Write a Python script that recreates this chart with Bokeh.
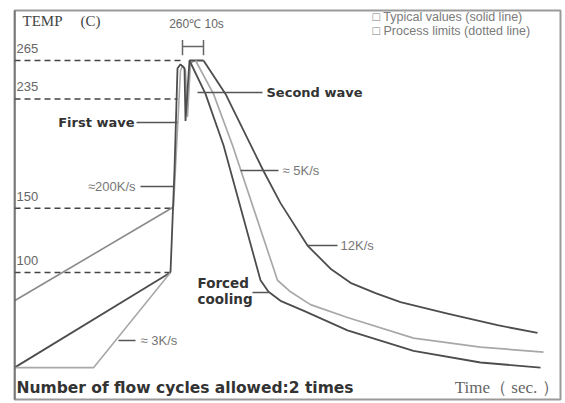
from bokeh.plotting import figure
from bokeh.models import Span
from bokeh.core.properties import value
from bokeh.embed import file_html
from bokeh.resources import INLINE

# ---------------- data (time in s, temperature in C) ----------------
levels = [265, 235, 150, 100]
level_labels = ["265", "235", "150", "100"]
level_end_t = [166, 163, 157, 156]

# heating (preheat) lines
heat_typ_t = [0, 156]
heat_typ_T = [26, 100]
heat_hi_t = [0, 159]
heat_hi_T = [78, 151]
heat_lo_t = [0, 79, 156]
heat_lo_T = [26, 26, 100]

# first wave / second wave (typical)
wave_typ_t = [156, 160, 163, 166, 170, 171, 175, 189]
wave_typ_T = [100, 180, 259, 262, 259, 218, 265, 265]
# first wave / second wave (process limits)
wave_lim_t = [159, 166, 168, 171, 173, 176, 181]
wave_lim_T = [151, 257, 261, 257, 221, 263, 265]

# cooling curves
cool_slow_t = [189, 211, 249, 266, 293, 316, 336, 361, 386, 433, 483, 523]
cool_slow_T = [265, 239, 179, 154, 121, 103, 92, 84, 77, 68, 59, 53]
cool_mid_t = [181, 199, 218, 263, 276, 296, 333, 399, 466, 529]
cool_mid_T = [265, 239, 199, 94, 85, 75, 65, 49, 42, 38]
cool_fast_t = [175, 191, 209, 246, 254, 266, 290, 333, 399, 466, 526]
cool_fast_T = [265, 239, 199, 94, 85, 78, 70, 55, 39, 30, 26]

DARK = "#4d4d4d"
MID = "#8a8a8a"
LIGHT = "#a8a8a8"

p = figure(width=565, height=403, x_range=(0, 546), y_range=(1.2, 303.9),
           x_axis_type=None, y_axis_type=None, toolbar_location=None,
           output_backend="svg", min_border_left=14, min_border_right=5,
           min_border_top=10, min_border_bottom=4)
p.grid.visible = False
p.outline_line_color = "#9a9a9a"
p.outline_line_width = 2
p.background_fill_color = "white"
p.border_fill_color = "white"
p.add_layout(Span(location=0, dimension="height", line_color="#555555", line_width=2))

# reference dashed levels
p.segment(x0=[0] * len(levels), y0=levels, x1=level_end_t, y1=levels,
          line_color="#444444", line_width=1.5, line_dash="6 4")
p.text(x=[2] * len(levels), y=[T + 9.5 for T in levels], text=level_labels,
       text_font=value("Liberation Sans"), text_font_size="13px",
       text_color="#666666", text_baseline="middle", text_align="left")

# heating
p.line(heat_hi_t, heat_hi_T, line_color=MID, line_width=1.6)
p.line(heat_typ_t, heat_typ_T, line_color=DARK, line_width=1.8)
p.line(heat_lo_t, heat_lo_T, line_color=LIGHT, line_width=1.6)

# waves
p.line(wave_lim_t, wave_lim_T, line_color=LIGHT, line_width=1.6)
p.line(wave_typ_t, wave_typ_T, line_color=DARK, line_width=1.8)

# cooling
p.line(cool_slow_t, cool_slow_T, line_color=DARK, line_width=1.8, line_join="round")
p.line(cool_mid_t, cool_mid_T, line_color=LIGHT, line_width=1.7, line_join="round")
p.line(cool_fast_t, cool_fast_T, line_color=DARK, line_width=1.8, line_join="round")

# peak 10 s bracket
p.segment(x0=[168, 189, 168], y0=[269, 269, 275.9], x1=[168, 189, 189], y1=[281, 281, 275.9],
          line_color="#666666", line_width=1.5)
p.text(x=[182], y=[293.5], text=["260\u2103 10s"], text_font=value("Liberation Sans"),
       text_font_size="12px", text_color="#666666", text_align="center",
       text_baseline="middle")

# leader lines
p.segment(x0=[122, 183, 126, 226, 293, 104, 238],
          y0=[216.8, 240.1, 166.9, 179.4, 121, 47.1, 84.5],
          x1=[163, 248, 159, 264, 323, 121, 254],
          y1=[216.8, 240.1, 166.9, 179.4, 121, 47.1, 84.5],
          line_color="#555555", line_width=1.5)

bold_font = value("DejaVu Sans")
p.text(x=[120], y=[216.8], text=["First wave"], text_font=bold_font, text_font_style="bold",
       text_font_size="13px", text_color="#333333", text_align="right", text_baseline="middle")
p.text(x=[252], y=[240.1], text=["Second wave"], text_font=bold_font, text_font_style="bold",
       text_font_size="13px", text_color="#333333", text_align="left", text_baseline="middle")
p.text(x=[183, 183], y=[92, 79.5], text=["Forced", "cooling"], text_font=bold_font,
       text_font_style="bold", text_font_size="13.5px", text_color="#333333",
       text_align="left", text_baseline="middle")

small = value("Liberation Sans")
p.text(x=[121], y=[166.9], text=["\u2248200K/s"], text_font=small, text_font_size="13px",
       text_color="#777777", text_align="right", text_baseline="middle")
p.text(x=[268, 326, 126], y=[179.4, 121, 47.1], text=["\u2248 5K/s", "12K/s", "\u2248 3K/s"],
       text_font=small, text_font_size="13px", text_color="#777777",
       text_align="left", text_baseline="middle")

# titles
p.text(x=[8, 66], y=[295.5, 295.5], text=["TEMP", "(C)"], text_font=value("Liberation Serif"),
       text_font_size="15px", text_color="#444444", text_align="left", text_baseline="middle")
p.text(x=[358, 358], y=[298.5, 287.6],
       text=["\u25a1 Typical values (solid  line)", "\u25a1 Process limits (dotted  line)"],
       text_font=small, text_font_size="12.5px", text_color="#7a7a7a",
       text_align="left", text_baseline="middle")
p.text(x=[2], y=[10.5], text=["Number of flow cycles allowed:2 times"], text_font=bold_font,
       text_font_style="bold", text_font_size="15.5px", text_color="#333333",
       text_align="left", text_baseline="middle")
p.text(x=[544], y=[10.5], text=["Time\uff08 sec. \uff09"], text_font=value("Liberation Serif"),
       text_font_size="17px", text_color="#666666", text_align="right", text_baseline="middle")

open("out.html", "w").write(file_html(p, INLINE))
